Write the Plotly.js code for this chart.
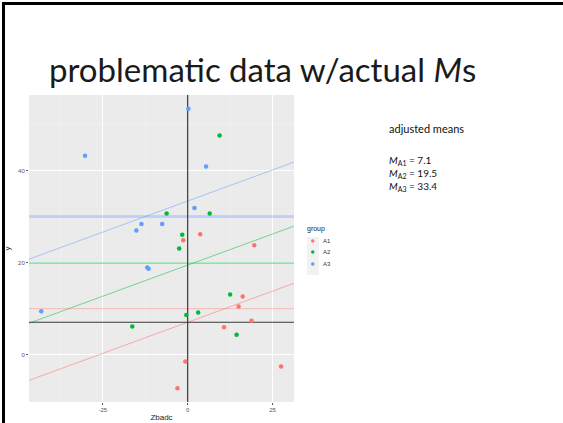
<!DOCTYPE html>
<html>
<head>
<meta charset="utf-8">
<script src="https://cdn.plot.ly/plotly-3.0.1.min.js"></script>
<style>
html,body{margin:0;padding:0;background:#fff;}
#wrap{position:relative;width:563px;height:423px;overflow:hidden;}
#chart{position:absolute;left:0;top:0;width:563px;height:423px;}
#frame{position:absolute;left:2px;top:2px;width:600px;height:600px;border-left:3px solid #000;border-top:3px solid #000;border-right:3px solid #000;box-sizing:border-box;pointer-events:none;}
</style>
</head>
<body>
<div id="wrap"><div id="chart"></div><div id="frame"></div></div>
<script>
// ---- data ----
const groups = ['A1', 'A2', 'A3'];
const colors = ['#F8766D', '#00BA38', '#619CFF'];
const A1_x = [-1.3, 3.7, 19.6, 16.2, 15.0, 18.8, 10.7, -0.7, -3.0, 27.5];
const A1_y = [24.9, 26.2, 23.8, 12.7, 10.5, 7.4, 6.0, -1.4, -7.2, -2.5];
const A2_x = [9.4, -6.2, 6.5, -1.6, -2.5, 12.5, -0.4, 3.1, -16.3, 14.4];
const A2_y = [47.6, 30.7, 30.7, 26.1, 23.1, 13.1, 8.7, 9.2, 6.2, 4.4];
const A3_x = [0.2, -30.2, 5.4, 2.0, -13.6, -15.1, -7.5, -11.9, -11.5, -43.1];
const A3_y = [53.4, 43.2, 40.9, 31.9, 28.4, 27.0, 28.4, 19.0, 18.7, 9.5];
const rawMeans = [10.05, 19.95, 30.05];
const adjMeans = [7.1, 19.5, 33.4];
const commonSlope = 0.27;
const grandMean = 7.1;
const xTickVals = [-25, 0, 25];
const xTickText = ['-25', '0', '25'];
const yTickVals = [0, 20, 40];
const yTickText = ['0', '20', '40'];
const xRange = [-46.7, 31.3];
const yRange = [-10.2, 56.4];

// ---- helpers: pixel -> paper ----
const W = 563, H = 423;
const px = v => v / W;
const py = v => 1 - v / H;

const xs = [A1_x, A2_x, A3_x];
const ys = [A1_y, A2_y, A3_y];
const lineCols = ['rgba(248,118,109,0.55)', 'rgba(0,186,56,0.5)', 'rgba(97,156,255,0.5)'];
const hCols = ['rgba(248,118,109,0.45)', 'rgba(0,186,56,0.65)', 'rgba(97,156,255,0.38)'];
const hW = [1, 1, 2.5];

const traces = [];
// horizontal raw group means
groups.forEach((g, i) => {
  traces.push({
    type: 'scatter', mode: 'lines', x: xRange, y: [rawMeans[i], rawMeans[i]],
    line: {color: hCols[i], width: hW[i]}, hoverinfo: 'skip', showlegend: false
  });
});
// regression lines (common slope, adjusted intercepts)
groups.forEach((g, i) => {
  traces.push({
    type: 'scatter', mode: 'lines', x: xRange,
    y: xRange.map(x => adjMeans[i] + commonSlope * x),
    line: {color: lineCols[i], width: 1}, hoverinfo: 'skip', showlegend: false
  });
});
// black reference lines
traces.push({type: 'scatter', mode: 'lines', x: xRange, y: [grandMean, grandMean],
  line: {color: '#3a3a3a', width: 1.2}, hoverinfo: 'skip', showlegend: false});
traces.push({type: 'scatter', mode: 'lines', x: [0, 0], y: yRange,
  line: {color: '#3a3a3a', width: 1.2}, hoverinfo: 'skip', showlegend: false});
// points
groups.forEach((g, i) => {
  traces.push({
    type: 'scatter', mode: 'markers', name: g, x: xs[i], y: ys[i],
    marker: {color: colors[i], size: 4.5}, showlegend: false
  });
});

const shapes = [];
// legend key background
shapes.push({type: 'rect', xref: 'paper', yref: 'paper', x0: px(307), x1: px(319), y0: py(275), y1: py(237),
  fillcolor: '#F2F2F2', line: {width: 0}, layer: 'below'});
const keyY = [241, 252, 264];
groups.forEach((g, i) => {
  shapes.push({type: 'circle', xref: 'paper', yref: 'paper',
    x0: px(311), x1: px(314.5), y0: py(keyY[i] + 1.75), y1: py(keyY[i] - 1.75),
    fillcolor: colors[i], line: {width: 0}});
});

const meanLines = groups.map((g, i) => '<i>M</i><sub>' + g + '</sub> = ' + adjMeans[i]).join('<br>');

const annotations = [
  {text: 'problematic data w/actual <i>M</i>s', xref: 'paper', yref: 'paper', x: px(47), y: py(69),
   xanchor: 'left', yanchor: 'middle', showarrow: false, font: {family: 'Lato, Liberation Sans', size: 33, color: '#1a1a1a'}},
  {text: 'adjusted means', xref: 'paper', yref: 'paper', x: px(387), y: py(128),
   xanchor: 'left', yanchor: 'middle', showarrow: false, font: {family: 'Lato, Liberation Sans', size: 11, color: '#111'}},
  {text: meanLines, xref: 'paper', yref: 'paper', x: px(387), y: py(173), align: 'left',
   xanchor: 'left', yanchor: 'middle', showarrow: false, font: {family: 'Lato, Liberation Sans', size: 10, color: '#111'}},
  {text: 'group', xref: 'paper', yref: 'paper', x: px(305), y: py(229),
   xanchor: 'left', yanchor: 'middle', showarrow: false, font: {family: 'Liberation Sans', size: 7, color: '#222'}}
];
groups.forEach((g, i) => {
  annotations.push({text: g, xref: 'paper', yref: 'paper', x: px(321), y: py(keyY[i]),
    xanchor: 'left', yanchor: 'middle', showarrow: false, font: {family: 'Liberation Sans', size: 6, color: '#333'}});
});

const layout = {
  width: W, height: H,
  margin: {l: 0, r: 0, t: 0, b: 0},
  paper_bgcolor: '#fff', plot_bgcolor: '#EBEBEB',
  showlegend: false,
  xaxis: {
    domain: [29 / W, 294 / W], range: xRange, tickvals: xTickVals, ticktext: xTickText,
    showgrid: true, gridcolor: '#fff', gridwidth: 1, zeroline: false, showline: false,
    ticks: 'outside', ticklen: 2, tickcolor: '#555', tickfont: {family: 'Liberation Sans', size: 6, color: '#555'},
    minor: {dtick: 12.5, tick0: 0, showgrid: true, gridcolor: '#f6f6f6', gridwidth: 0.5, ticks: ''},
    title: {text: 'Zbadc', font: {family: 'Liberation Sans', size: 8, color: '#222'}, standoff: 2},
    fixedrange: true
  },
  yaxis: {
    domain: [1 - 402 / H, 1 - 95 / H], range: yRange, tickvals: yTickVals, ticktext: yTickText,
    showgrid: true, gridcolor: '#fff', gridwidth: 1, zeroline: false, showline: false,
    ticks: 'outside', ticklen: 2, tickcolor: '#555', tickfont: {family: 'Liberation Sans', size: 6, color: '#555'},
    minor: {dtick: 10, tick0: 0, showgrid: true, gridcolor: '#f6f6f6', gridwidth: 0.5, ticks: ''},
    title: {text: 'y', font: {family: 'Liberation Sans', size: 8, color: '#222'}, standoff: 6},
    fixedrange: true
  },
  shapes: shapes,
  annotations: annotations
};

Plotly.newPlot('chart', traces, layout, {staticPlot: true, displayModeBar: false});
</script>
</body>
</html>
